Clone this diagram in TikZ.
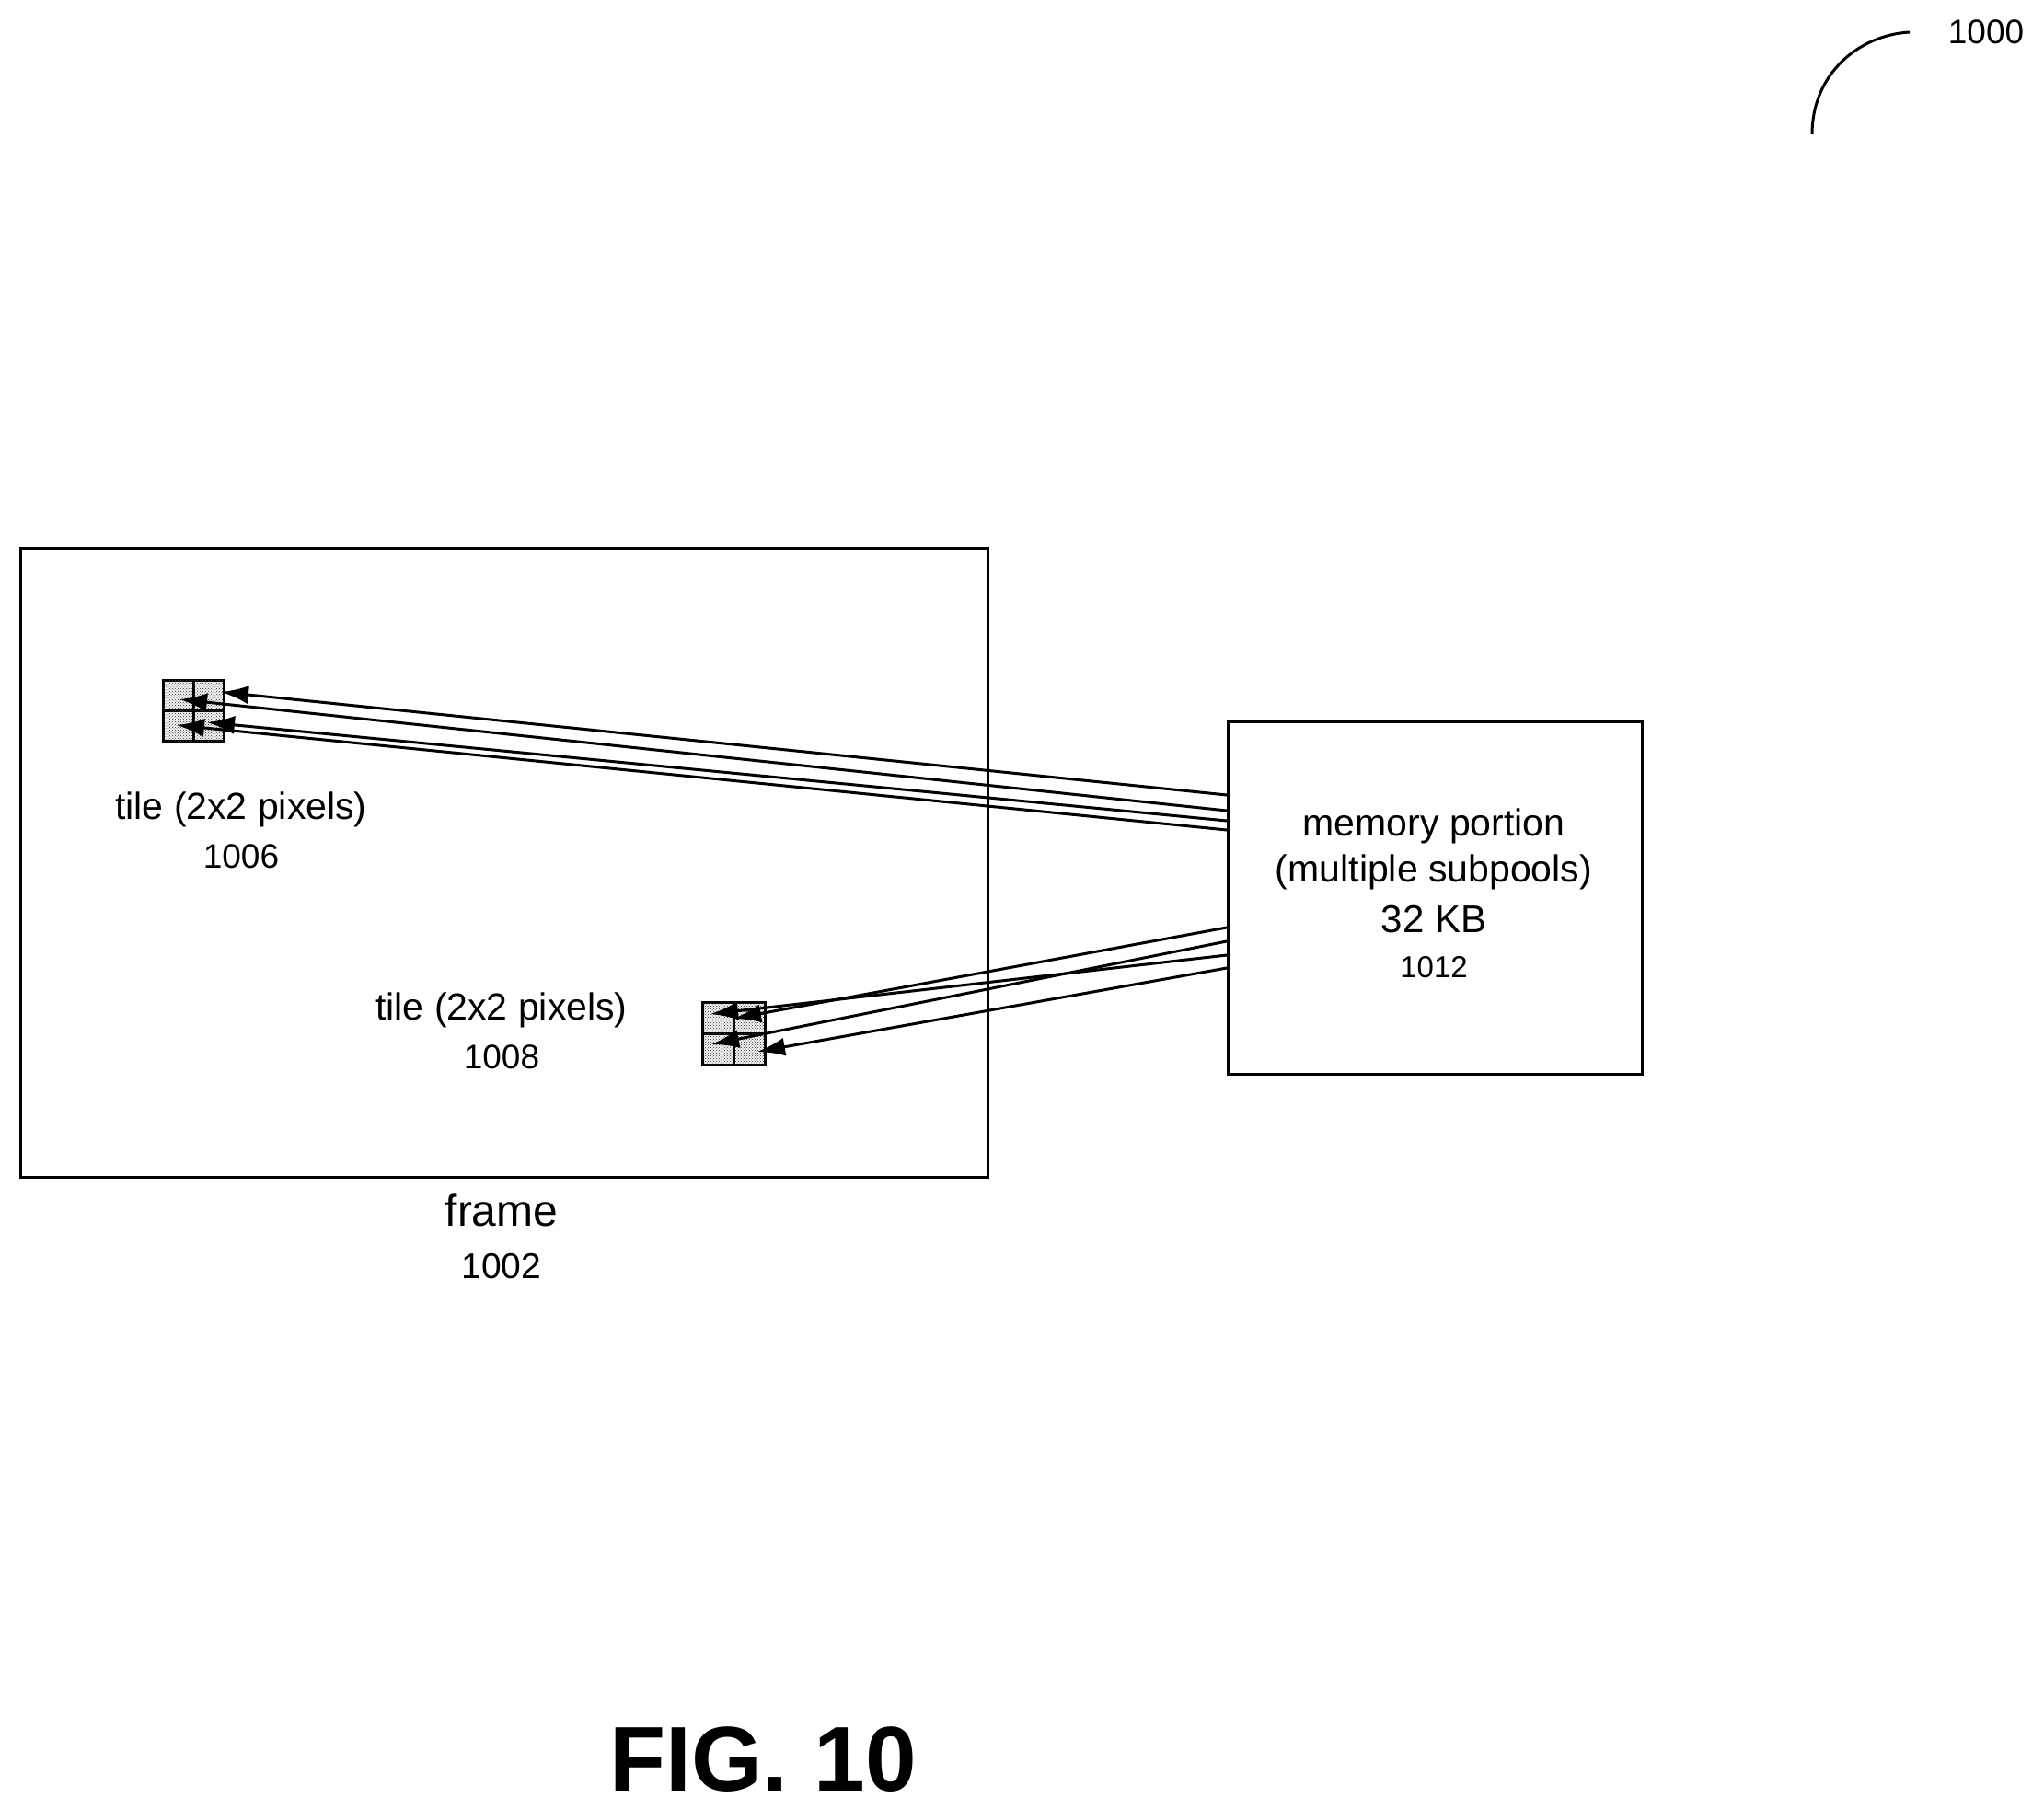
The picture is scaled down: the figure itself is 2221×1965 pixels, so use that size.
\documentclass[tikz,border=0pt]{standalone}
\usepackage{fontspec}
\setmainfont{Liberation Sans}
\usetikzlibrary{patterns,arrows.meta}
\begin{document}
\begin{tikzpicture}[x=1pt,y=-1pt,
  box/.style={draw,line width=3pt},
  cell/.style={draw,line width=3pt,fill=gray!10,postaction={pattern=crosshatch dots,pattern color=black!80}},
  arr/.style={line width=3pt,-{Latex[length=30pt,width=20pt]}},
  lbl/.style={font=\fontsize{41}{48}\selectfont,inner sep=0pt}]
\useasboundingbox (0,0) rectangle (2221,1965);
\node[box,minimum width=1051pt,minimum height=683pt,anchor=north west,inner sep=0pt] (frame) at (21,595) {};
\node[box,minimum width=450pt,minimum height=383pt,anchor=north west,inner sep=0pt] (mem) at (1333,783) {};
\foreach \i/\x/\y in {a/176/738,b/209/738,c/176/771,d/209/771}
  \node[cell,minimum size=33pt,anchor=north west,inner sep=0pt] (t1\i) at (\x,\y) {};
\foreach \i/\x/\y in {a/762/1088,b/796/1088,c/762/1122,d/796/1122}
  \node[cell,minimum size=34pt,anchor=north west,inner sep=0pt] (t2\i) at (\x,\y) {};
\coordinate (m1) at (1333,864); \coordinate (m2) at (1333,881);
\coordinate (m3) at (1333,892); \coordinate (m4) at (1333,902);
\coordinate (e1) at (195,760); \coordinate (e2) at (240,752);
\coordinate (e3) at (192,788); \coordinate (e4) at (225,785);
\draw[arr] (m1) -- (e2); \draw[arr] (m2) -- (e1);
\draw[arr] (m3) -- (e4); \draw[arr] (m4) -- (e3);
\coordinate (n1) at (1333,1008); \coordinate (n2) at (1333,1023);
\coordinate (n3) at (1333,1038); \coordinate (n4) at (1333,1052);
\coordinate (f1) at (772,1102); \coordinate (f2) at (797,1107);
\coordinate (f3) at (773,1135); \coordinate (f4) at (823,1143);
\draw[arr] (n1) -- (f2); \draw[arr] (n2) -- (f3);
\draw[arr] (n3) -- (f1); \draw[arr] (n4) -- (f4);
\node[lbl] (l1) at (262,880) {tile (2x2 pixels)};
\node[lbl,font=\fontsize{37}{44}\selectfont] (l1n) at (262,931) {1006};
\node[lbl] (l2) at (545,1098) {tile (2x2 pixels)};
\node[lbl,font=\fontsize{37}{44}\selectfont] (l2n) at (545,1149) {1008};
\node[lbl,font=\fontsize{48}{54}\selectfont] (fl) at (545,1315) {frame};
\node[lbl,font=\fontsize{39}{44}\selectfont] (fn) at (545,1376) {1002};
\node[lbl] at (1558,898) {memory portion};
\node[lbl] at (1558,948) {(multiple subpools)};
\node[lbl,font=\fontsize{42}{48}\selectfont] at (1558,999) {32 KB};
\node[lbl,font=\fontsize{33}{38}\selectfont] at (1558,1051) {1012};
\node[lbl,font=\fontsize{37}{44}\selectfont] (ref) at (2158,35) {1000};
\draw[line width=3pt] (1969,146) .. controls (1969,80) and (2020,38) .. (2075,35);
\node[inner sep=0pt,font=\fontsize{100}{110}\selectfont\bfseries] at (829,1912) {FIG. 10};
\end{tikzpicture}
\end{document}
